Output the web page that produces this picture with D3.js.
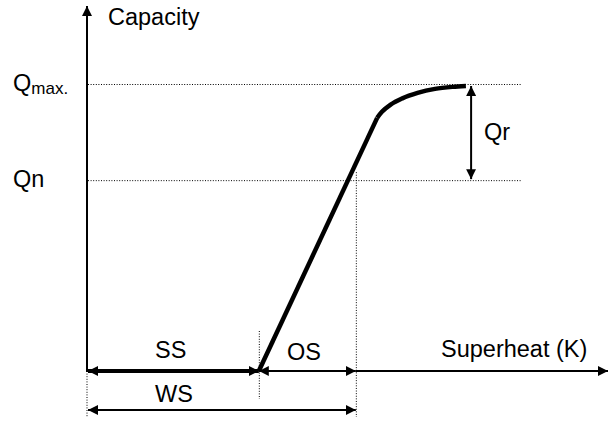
<!DOCTYPE html>
<html>
<head>
<meta charset="utf-8">
<script src="https://cdn.jsdelivr.net/npm/d3@7"></script>
<style>
html,body{margin:0;padding:0;background:#fff;}
svg{display:block;font-family:"Liberation Sans",Arial,sans-serif;}
</style>
</head>
<body>
<svg id="chart" width="609" height="421"></svg>
<script>
// ---- data (superheat in K, capacity in % of Qmax) ----
const xAxisTitle = "Superheat (K)";
const yAxisTitle = "Capacity";
const levelNames = ["Q", "Q"];
const levelSubs = ["max.", "n"];
const levelValues = [100, 66.5];
const ssEnd = 3.95;      // static superheat
const wsEnd = 6.18;      // working superheat (SS + OS)
const rampX = [3.95, 6.67];
const rampY = [0, 88.2];
const kneeX = [6.67, 6.78, 6.98, 7.25, 7.6, 8.0, 8.4, 8.71];
const kneeY = [88.2, 90.3, 92.8, 95.0, 96.9, 98.3, 99.0, 99.3];
const qrX = 8.83;
const spanLabels = ["SS", "OS", "WS", "Qr"];

const svg = d3.select("#chart");
const x = d3.scaleLinear().domain([0, 12]).range([87, 609]);
const y = d3.scaleLinear().domain([0, 100]).range([371, 84]);
const FS = 23.5;

const defs = svg.append("defs");
function marker(id, w, l) {
  defs.append("marker").attr("id", id)
    .attr("viewBox", `0 0 ${l} ${w}`).attr("refX", l).attr("refY", w / 2)
    .attr("markerWidth", l).attr("markerHeight", w)
    .attr("markerUnits", "userSpaceOnUse").attr("orient", "auto-start-reverse")
    .append("path").attr("d", `M0,0L${l},${w / 2}L0,${w}Z`).attr("fill", "#000");
}
marker("ah", 10, 10);
marker("axh", 10, 10);

const dotted = g => g.attr("stroke", "#000").attr("stroke-width", 1).attr("stroke-dasharray", "1,1.6").attr("fill", "none");

// horizontal dotted level lines
levelValues.forEach(v => {
  svg.append("line").attr("x1", x(0) + 1).attr("x2", 522).attr("y1", y(v) + 0.5).attr("y2", y(v) + 0.5).call(dotted);
});
// vertical dotted guides
svg.append("line").attr("x1", x(0)).attr("x2", x(0)).attr("y1", y(0)).attr("y2", 417).call(dotted);
svg.append("line").attr("x1", x(ssEnd) + 0.5).attr("x2", x(ssEnd) + 0.5).attr("y1", 331).attr("y2", 399).call(dotted);
svg.append("line").attr("x1", x(wsEnd) + 0.5).attr("x2", x(wsEnd) + 0.5).attr("y1", y(levelValues[1]) - 8).attr("y2", 417).call(dotted);

// axes
svg.append("line").attr("x1", x(0)).attr("x2", x(0)).attr("y1", y(0) + 1).attr("y2", 6)
  .attr("stroke", "#000").attr("stroke-width", 2).attr("marker-end", "url(#axh)");
svg.append("line").attr("x1", x(wsEnd)).attr("x2", 608).attr("y1", y(0)).attr("y2", y(0))
  .attr("stroke", "#000").attr("stroke-width", 2).attr("marker-end", "url(#axh)");

// SS (thick) and OS arrows
svg.append("line").attr("x1", x(0) + 1).attr("x2", x(ssEnd)).attr("y1", y(0)).attr("y2", y(0))
  .attr("stroke", "#000").attr("stroke-width", 4)
  .attr("marker-start", "url(#ah)").attr("marker-end", "url(#ah)");
svg.append("line").attr("x1", x(ssEnd)).attr("x2", x(wsEnd)).attr("y1", y(0)).attr("y2", y(0))
  .attr("stroke", "#000").attr("stroke-width", 2)
  .attr("marker-start", "url(#ah)").attr("marker-end", "url(#ah)");
// WS arrow
svg.append("line").attr("x1", x(0) + 1).attr("x2", x(wsEnd)).attr("y1", 410).attr("y2", 410)
  .attr("stroke", "#000").attr("stroke-width", 2)
  .attr("marker-start", "url(#ah)").attr("marker-end", "url(#ah)");
// Qr arrow
svg.append("line").attr("x1", x(qrX)).attr("x2", x(qrX)).attr("y1", y(levelValues[0]) + 2).attr("y2", y(levelValues[1]) - 1)
  .attr("stroke", "#000").attr("stroke-width", 2)
  .attr("marker-start", "url(#ah)").attr("marker-end", "url(#ah)");

// capacity curve
const lineGen = d3.line().x(d => x(d[0])).y(d => y(d[1]));
svg.append("path").datum(d3.zip(rampX, rampY)).attr("d", lineGen)
  .attr("stroke", "#000").attr("stroke-width", 4.5).attr("fill", "none");
svg.append("path").datum(d3.zip(kneeX, kneeY)).attr("d", lineGen.curve(d3.curveMonotoneX))
  .attr("stroke", "#000").attr("stroke-width", 4.5).attr("fill", "none");

// texts
const T = (tx, ty, s, size) => svg.append("text").attr("x", tx).attr("y", ty).attr("font-size", size || FS).attr("fill", "#000").text(s);
T(108, 25, yAxisTitle);
T(441, 357, xAxisTitle);
levelValues.forEach((v, i) => {
  const t = svg.append("text").attr("x", 13).attr("y", y(v) + 7).attr("font-size", FS).attr("fill", "#000");
  t.append("tspan").text(levelNames[i]);
  if (i === 0) t.append("tspan").attr("font-size", 17).attr("dy", 3).text(levelSubs[i]);
  else t.append("tspan").text(levelSubs[i]);
});
T(155, 358, spanLabels[0]);
T(287, 360, spanLabels[1]);
T(155, 402, spanLabels[2]);
T(484, 140, spanLabels[3]);
</script>
</body>
</html>
